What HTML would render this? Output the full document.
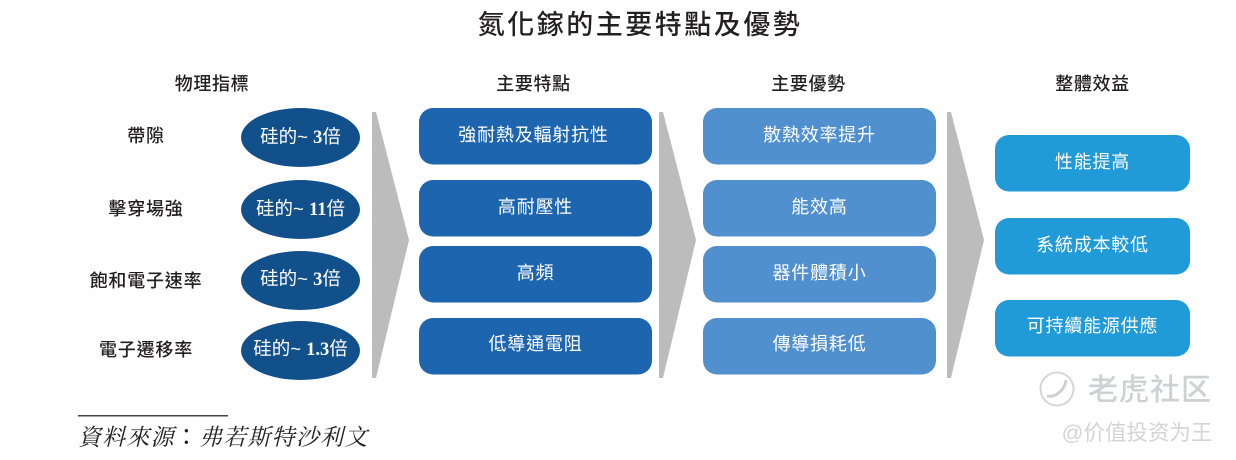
<!DOCTYPE html>
<html>
<head>
<meta charset="utf-8">
<style>
html,body{margin:0;padding:0;background:#fff;width:1236px;height:460px;overflow:hidden}
svg{display:block}
text{font-family:"Liberation Sans","Noto Sans CJK TC",sans-serif;text-anchor:middle;dominant-baseline:auto}
.t{font-size:27px;letter-spacing:2.5px;fill:#231f20;font-weight:500}
.h{font-size:18px;letter-spacing:.6px;fill:#231f20;font-weight:500}
.l{font-size:18px;letter-spacing:.8px;fill:#231f20;font-weight:500}
.b{font-size:18px;letter-spacing:.8px;fill:#fff}
.e{font-size:18.500px;fill:#fff}
.e tspan.n{font-family:"Liberation Serif",serif;font-weight:700}
.s{font-family:"Liberation Serif","Noto Serif CJK SC",serif;font-size:23px;letter-spacing:1.200px;font-style:italic;fill:#231f20;text-anchor:start}
</style>
</head>
<body>
<svg width="1236" height="460" viewBox="0 0 1236 460" xmlns="http://www.w3.org/2000/svg">
<text class="t" x="640" y="34">氮化鎵的主要特點及優勢</text>
<text class="h" x="212" y="90">物理指標</text>
<text class="h" x="533.500" y="90">主要特點</text>
<text class="h" x="808.500" y="90">主要優勢</text>
<text class="h" x="1092.500" y="90">整體效益</text>

<text class="l" x="146" y="142">帶隙</text>
<text class="l" x="146" y="215">擊穿場強</text>
<text class="l" x="146" y="287">飽和電子速率</text>
<text class="l" x="146" y="356">電子遷移率</text>

<g fill="#12508c">
<ellipse cx="300.500" cy="137.500" rx="59.500" ry="29.500"/>
<ellipse cx="300.500" cy="209.500" rx="59.500" ry="29.500"/>
<ellipse cx="300.500" cy="280.500" rx="59.500" ry="29.500"/>
<ellipse cx="300.500" cy="350.500" rx="59.500" ry="29.500"/>
</g>
<text class="e" x="300.500" y="143">硅的~ <tspan class="n">3</tspan>倍</text>
<text class="e" x="300.500" y="215">硅的~ <tspan class="n">11</tspan>倍</text>
<text class="e" x="300.500" y="285">硅的~ <tspan class="n">3</tspan>倍</text>
<text class="e" x="300.500" y="355">硅的~ <tspan class="n">1.3</tspan>倍</text>

<g fill="#bcbcbc">
<polygon points="372,112 376,112 409,240 376,378 372,378"/>
<polygon points="659,112 663,112 696,240 663,378 659,378"/>
<polygon points="947,112 951,112 984,240 951,378 947,378"/>
</g>

<g fill="#1d65ae">
<rect x="419" y="108" width="233" height="56.500" rx="14"/>
<rect x="419" y="180" width="233" height="56.500" rx="14"/>
<rect x="419" y="246" width="233" height="56.500" rx="14"/>
<rect x="419" y="318" width="233" height="56.500" rx="14"/>
</g>
<g fill="#5190cf">
<rect x="703" y="108" width="233" height="56.500" rx="14"/>
<rect x="703" y="180" width="233" height="56.500" rx="14"/>
<rect x="703" y="246" width="233" height="56.500" rx="14"/>
<rect x="703" y="318" width="233" height="56.500" rx="14"/>
</g>
<g fill="#209bd8">
<rect x="995" y="135" width="195" height="56.500" rx="14"/>
<rect x="995" y="218" width="195" height="56.500" rx="14"/>
<rect x="995" y="300" width="195" height="56.500" rx="14"/>
</g>

<text class="b" x="533.500" y="141">強耐熱及輻射抗性</text>
<text class="b" x="535.500" y="213">高耐壓性</text>
<text class="b" x="535.500" y="279">高頻</text>
<text class="b" x="535.500" y="350">低導通電阻</text>

<text class="b" x="819.500" y="141">散熱效率提升</text>
<text class="b" x="819.500" y="213">能效高</text>
<text class="b" x="819.500" y="279">器件體積小</text>
<text class="b" x="819.500" y="350">傳導損耗低</text>

<text class="b" x="1092.500" y="168">性能提高</text>
<text class="b" x="1092.500" y="251">系統成本較低</text>
<text class="b" x="1092.500" y="332">可持續能源供應</text>

<rect x="78" y="415" width="150" height="1.500" fill="#444"/>
<text class="s" x="78" y="445">資料來源<tspan style="font-family:'Noto Sans CJK TC',sans-serif;font-style:normal">：</tspan>弗若斯特沙利文</text>

<circle cx="1057" cy="389" r="16.500" fill="none" stroke="#d6d6d6" stroke-width="2"/>
<path d="M1047 396 C1055 398 1065 390 1066 380" fill="none" stroke="#d0d0d0" stroke-width="3"/>
<text x="1150" y="400" style="font-size:30px;font-weight:500;letter-spacing:1px;fill:#cfd0d2">老虎社区</text>
<text x="1137" y="440" style="font-size:21.500px;fill:#d4d4d4">@价值投资为王</text>
</svg>
</body>
</html>
